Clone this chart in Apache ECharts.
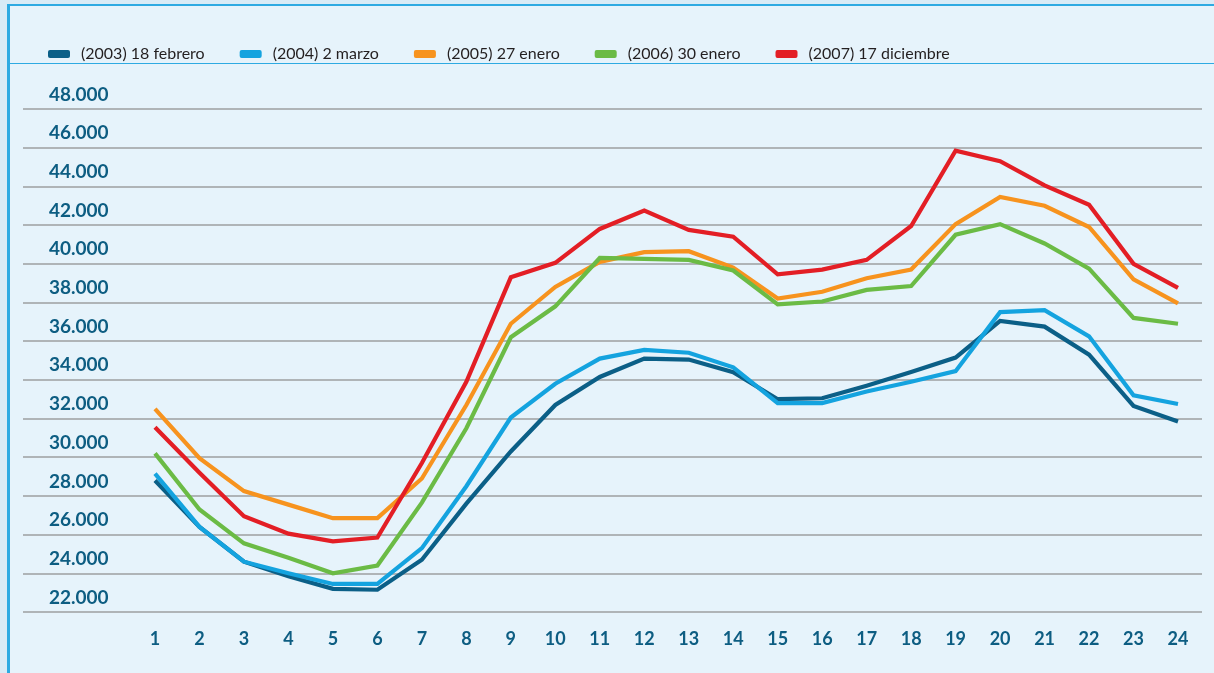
<!DOCTYPE html>
<html>
<head>
<meta charset="utf-8">
<script src="https://cdn.jsdelivr.net/npm/echarts@6/dist/echarts.min.js"></script>
<style>
    html, body {
        margin: 0;
        padding: 0;
        width: 1214px;
        height: 673px;
        overflow: hidden;
        background: #d9ebf6;
    }
    .frame {
        position: absolute;
        left: 7px;
        top: 4px;
        right: 0;
        bottom: 0;
        border-top: 2px solid #2eaae2;
        border-left: 3px solid #2eaae2;
        background: #e6f3fb;
    }
    .legend-line {
        position: absolute;
        left: 10px;
        right: 0;
        top: 63px;
        height: 1px;
        background: #2eaae2;
    }
    #demandChart {
        position: absolute;
        left: 0;
        top: 0;
        width: 1214px;
        height: 673px;
    }
</style>
</head>
<body>
<div class="frame"></div>
<div class="legend-line"></div>
<div id="demandChart"></div>
<script>
    // horas del día
    var hours = ['1', '2', '3', '4', '5', '6', '7', '8', '9', '10', '11', '12',
        '13', '14', '15', '16', '17', '18', '19', '20', '21', '22', '23', '24'];

    var seriesNames = ['(2003) 18 febrero', '(2004) 2 marzo', '(2005) 27 enero', '(2006) 30 enero', '(2007) 17 diciembre'];

    // demanda horaria (MW)
    var d2003 = [28800, 26400, 24600, 23850, 23200, 23150, 24700, 27600, 30300, 32700, 34150, 35100,
        35050, 34400, 33000, 33050, 33700, 34400, 35150, 37050, 36750, 35300, 32650, 31850];
    var d2004 = [29150, 26400, 24600, 24000, 23450, 23450, 25300, 28500, 32050, 33800, 35100, 35550,
        35400, 34650, 32800, 32800, 33400, 33900, 34450, 37500, 37600, 36250, 33200, 32750];
    var d2005 = [32500, 29950, 28250, 27550, 26850, 26850, 28900, 32700, 36900, 38800, 40100, 40600,
        40650, 39800, 38200, 38550, 39250, 39700, 42050, 43450, 43000, 41900, 39200, 37950];
    var d2006 = [30200, 27300, 25550, 24800, 24000, 24400, 27650, 31500, 36200, 37800, 40300, 40250,
        40200, 39650, 37900, 38050, 38650, 38850, 41500, 42050, 41050, 39750, 37200, 36900];
    var d2007 = [31550, 29200, 26950, 26050, 25650, 25850, 29700, 33900, 39300, 40050, 41800, 42750,
        41750, 41400, 39450, 39700, 40200, 41950, 45850, 45300, 44050, 43050, 40000, 38750];

    var yMin = 22000, yMax = 48000, yStep = 2000;

    var colors = ['#0b5f87', '#14a3df', '#f7931e', '#6bbb45', '#e31e25'];
    var labelColor = '#0d5d82';
    var fontFamily = 'Lato, "Open Sans", sans-serif';

    var allData = [d2003, d2004, d2005, d2006, d2007];
    var series = [];
    for (var i = 0; i < allData.length; i++) {
        series.push({
            name: seriesNames[i],
            type: 'line',
            xAxisIndex: 1,
            yAxisIndex: 1,
            data: allData[i],
            showSymbol: false,
            symbol: 'none',
            lineStyle: {
                width: 4.2,
                color: colors[i],
                join: 'miter'
            },
            itemStyle: {color: colors[i]}
        });
    }

    var option = {
        animation: false,
        color: colors,
        legend: {
            data: seriesNames,
            left: 43,
            top: 41,
            itemWidth: 22,
            itemHeight: 8,
            itemGap: 35,
            icon: 'roundRect',
            textStyle: {
                fontFamily: fontFamily,
                fontSize: 16,
                color: '#231f20',
                padding: [0, 0, 0, 6]
            }
        },
        grid: [
            // cuadrícula de fondo con las líneas horizontales
            {left: 23, right: 12, top: 109, bottom: 61},
            // zona de las series, de la hora 1 a la 24
            {left: 155, right: 36, top: 109, bottom: 61}
        ],
        xAxis: [
            {gridIndex: 0, type: 'value', show: false, min: 0, max: 1},
            {
                gridIndex: 1,
                type: 'category',
                data: hours,
                boundaryGap: false,
                axisLine: {show: false},
                axisTick: {show: false},
                splitLine: {show: false},
                axisLabel: {
                    margin: 18,
                    fontFamily: fontFamily,
                    fontSize: 18,
                    fontWeight: 'bold',
                    color: labelColor
                }
            }
        ],
        yAxis: [
            {
                gridIndex: 0,
                type: 'value',
                min: yMin,
                max: yMax,
                interval: yStep,
                axisLine: {show: false},
                axisTick: {show: false},
                splitLine: {
                    show: true,
                    lineStyle: {color: '#9d9fa1', width: 1.5}
                },
                axisLabel: {
                    inside: true,
                    margin: 26,
                    verticalAlign: 'bottom',
                    padding: [0, 0, 5, 0],
                    fontFamily: fontFamily,
                    fontSize: 19,
                    fontWeight: 'bold',
                    color: labelColor,
                    formatter: function (value) {
                        return Math.round(value / 1000) + '.000';
                    }
                }
            },
            {gridIndex: 1, type: 'value', min: yMin, max: yMax, interval: yStep, show: false}
        ],
        series: series
    };

    var myChart = echarts.init(document.getElementById('demandChart'), null, {renderer: 'canvas'});
    myChart.setOption(option);
</script>
</body>
</html>
